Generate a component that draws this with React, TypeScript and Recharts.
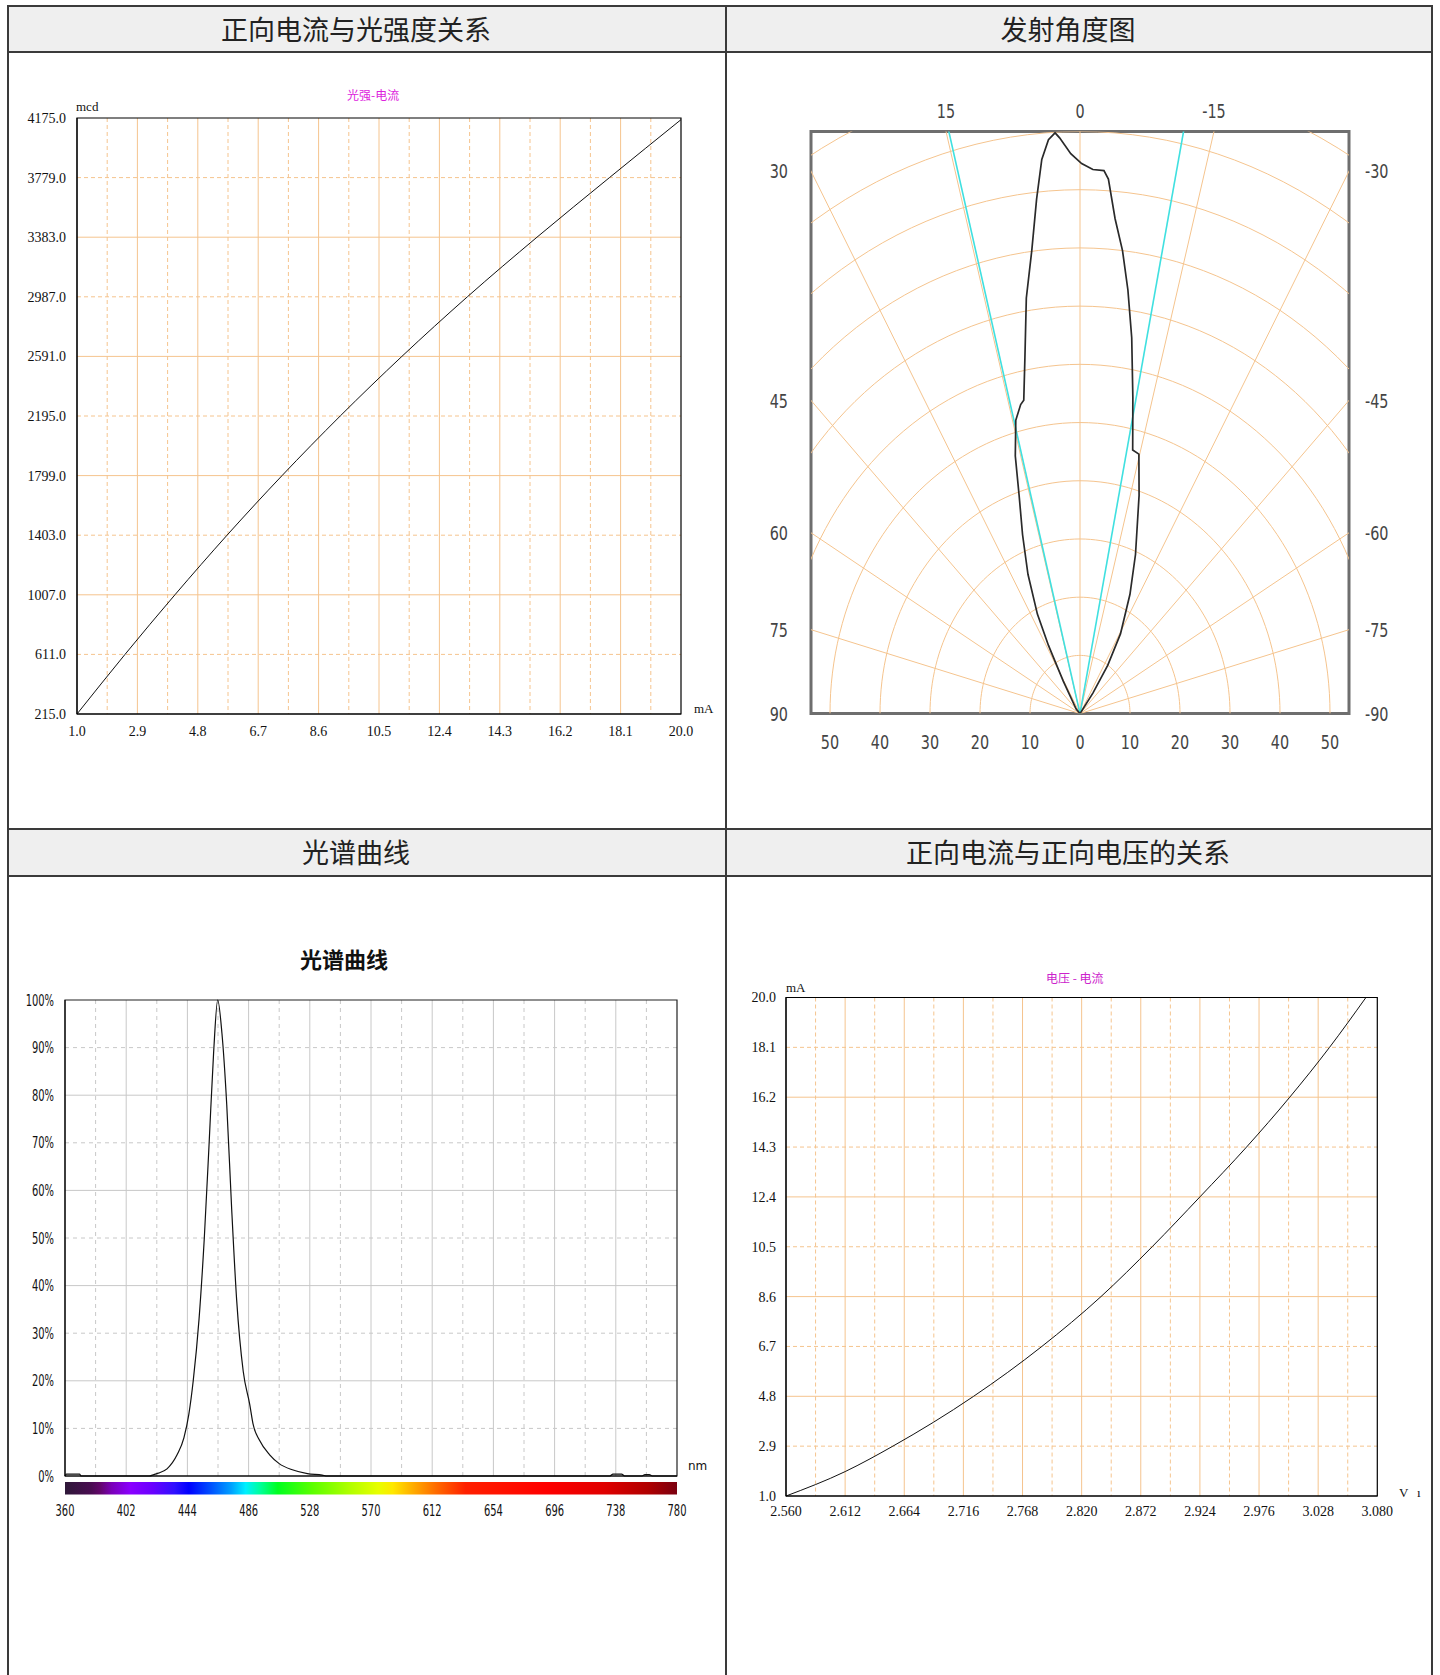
import React from 'react';
import { ComposedChart, Line, XAxis, YAxis, CartesianGrid, ReferenceArea } from 'recharts';

// 正向电流与光强度关系 (光强-电流)
const lumCurrent = [1.0, 2.51, 4.08, 5.72, 7.45, 9.28, 11.22, 13.28, 15.47, 17.75, 20.0];
const lumIntensity = [215, 611, 1007, 1403, 1799, 2195, 2591, 2987, 3383, 3779, 4164];
const lumXTicks = [1.0, 2.9, 4.8, 6.7, 8.6, 10.5, 12.4, 14.3, 16.2, 18.1, 20.0];
const lumYTicks = [215, 611, 1007, 1403, 1799, 2195, 2591, 2987, 3383, 3779, 4175];

// 发射角度图 (angle in degrees, relative intensity in %)
const beamAngle = [45, 44, 31, 28.3, 26.5, 23.5, 20.5, 18.0, 16.3, 14.3, 12.6, 11.8, 10.2, 8.55, 6.9, 5.61, 4.59, 3.66, 2.86,
  2.36, 1.1, -0.2, -1.58, -2.94, -3.54, -4.72, -6.1, -7.5, -9.1, -11.0, -13.1, -14.8, -17.5, -22.1, -26.0, -30.6, -33.8, -36.2, -40];
const beamIntensity = [0, 1.1, 6.5, 13.3, 19.1, 26.1, 32.8, 39.4, 46.1, 52.0, 54.4, 55.0, 62.2, 72.2, 80.2, 88.8, 95.5, 98.8, 99.9,
  99.0, 96.2, 94.5, 93.5, 93.4, 92.0, 85.3, 80.0, 73.4, 65.4, 55.4, 46.5, 46.1, 39.3, 29.5, 22.8, 15.9, 9.96, 4.36, 0];
const halfAngles = [14.7, -11.7];
const spokeAngles = [-75, -60, -45, -30, -15, 0, 15, 30, 45, 60, 75];
const ringRadii = [10, 20, 30, 40, 50, 60, 70, 80, 90, 100, 110];
const sideAngles = [30, 45, 60, 75, 90];
const topAngles = [15, 0, -15];
const widthTicks = [-50, -40, -30, -20, -10, 0, 10, 20, 30, 40, 50];

// 光谱曲线
const wavelength = [360, 361, 370, 371, 418, 421, 424, 430, 437, 441.6, 445, 448, 452, 455.6, 459, 462, 464.8, 467.7, 471, 474.4,
  477.8, 482.3, 486.8, 489, 493.5, 500.3, 507, 516, 526.3, 536.5, 540, 734, 736, 742, 744, 756, 758, 761, 763, 780];
const relIntensity = [0, 0.4, 0.4, 0, 0, 0.3, 0.6, 1.5, 4.5, 8, 13, 20, 33, 50, 70.5, 89, 100, 93, 78, 56,
  37, 22, 15, 11, 7.5, 4.5, 2.6, 1.3, 0.5, 0.2, 0, 0, 0.4, 0.4, 0, 0, 0.3, 0.3, 0, 0];
const nmTicks = [360, 402, 444, 486, 528, 570, 612, 654, 696, 738, 780];
const pctTicks = [0, 10, 20, 30, 40, 50, 60, 70, 80, 90, 100];
const barNm = [360, 378, 384, 392, 405, 420, 435, 445, 460, 474, 484, 494, 506, 530, 555, 575, 585, 598, 615, 635, 690, 730, 760, 780];
const barColor = ['#2e1838', '#4a0c52', '#62066a', '#7a00b8', '#8a00ff', '#6a00ff', '#3010ff', '#0000ff', '#0050ff', '#00a0ff',
  '#00f0ff', '#00ff9a', '#00ff20', '#5cff00', '#b0ff00', '#e8ff00', '#ffe800', '#ffb000', '#ff6a00', '#ff2000', '#ff0000',
  '#e00000', '#b00000', '#7a0010'];

// 正向电流与正向电压的关系 (电压-电流)
const fwdVoltage = [2.56, 2.612, 2.654, 2.725, 2.785, 2.837, 2.882, 2.924, 2.965, 3.003, 3.038, 3.07];
const fwdCurrent = [1.0, 1.93, 2.9, 4.8, 6.7, 8.6, 10.5, 12.4, 14.3, 16.2, 18.1, 20.0];
const vTicks = [2.56, 2.612, 2.664, 2.716, 2.768, 2.82, 2.872, 2.924, 2.976, 3.028, 3.08];
const iTicks = [1.0, 2.9, 4.8, 6.7, 8.6, 10.5, 12.4, 14.3, 16.2, 18.1, 20.0];

const X_MAX = 53.8;
const rad = (d: number) => (d * Math.PI) / 180;
const toXY = (deg: number, r: number) => ({ x: -r * Math.sin(rad(deg)), y: r * Math.cos(rad(deg)) });
const inner = (t: number[]) => t.slice(1, -1);
const mids = (t: number[]) => t.slice(1).map((v, i) => (v + t[i]) / 2);
const evenInner = (t: number[]) => t.filter((_, i) => i % 2 === 0 && i > 0 && i < t.length - 1);
const odd = (t: number[]) => t.filter((_, i) => i % 2 === 1);

const lumData = lumCurrent.map((c, i) => ({ x: c, y: lumIntensity[i] }));
const fwdData = fwdVoltage.map((v, i) => ({ x: v, y: fwdCurrent[i] }));
const specData = wavelength.map((w, i) => ({ x: w, y: relIntensity[i] }));
const beamData = beamAngle.map((a, i) => toXY(a, beamIntensity[i]));
const ringData = ringRadii.map((r) => {
  const pts = [];
  for (let a = -90; a <= 90; a += 2) pts.push(toXY(a, r));
  return pts;
});
const spokeData = spokeAngles.map((a) => [{ x: 0, y: 0 }, toXY(a, 200)]);
const halfData = halfAngles.map((a) => [{ x: 0, y: 0 }, toXY(a, 200)]);
const sideTicks = sideAngles.map((a) => (a === 90 ? 0 : X_MAX / Math.tan(rad(a))));
const topTicks = topAngles.map((a) => -100 * Math.tan(rad(a)));
const sideLabel = (v: number) => (v < 0.001 ? 90 : Math.round((Math.atan(X_MAX / v) * 180) / Math.PI));

const SERIF = '"Liberation Serif", serif';
const SANS = '"DejaVu Sans", sans-serif';
const CJK = '"Noto Sans CJK SC", sans-serif';
const ORANGE = '#f5c48e';
const BORDER = '#3a3a3a';

type TickStyle = { size: number; sx: number; fill: string; family: string; anchor: string; dy: string };
const makeTick = (fmt: (v: number) => string, s: TickStyle) => (props: any) => {
  const { x, y, payload } = props;
  return (
    <text transform={`translate(${x},${y}) scale(${s.sx},1)`} textAnchor={s.anchor} dy={s.dy}
      fontSize={s.size} fontFamily={s.family} fill={s.fill}>{fmt(payload.value)}</text>
  );
};
const serifX = (fmt: (v: number) => string) => makeTick(fmt, { size: 14, sx: 1, fill: '#111', family: SERIF, anchor: 'middle', dy: '0.71em' });
const serifY = (fmt: (v: number) => string) => makeTick(fmt, { size: 14, sx: 1, fill: '#111', family: SERIF, anchor: 'end', dy: '0.355em' });
const polarStyle = { size: 20, sx: 0.72, fill: '#444', family: SANS };
const specStyle = { size: 16, sx: 0.62, fill: '#111', family: SANS };

const abs = (x: number, y: number, extra: React.CSSProperties = {}): React.CSSProperties => ({
  position: 'absolute', left: x, top: y, ...extra,
});

const Header = ({ left, top, width, text }: { left: number; top: number; width: number; text: string }) => (
  <div style={abs(left, top, { width, height: 46, lineHeight: '46px', textAlign: 'center', fontSize: 27, color: '#222',
    fontFamily: CJK })}>{text}</div>
);

const SmallText = ({ x, y, text, color = '#111', font = SERIF, size = 13 }:
  { x: number; y: number; text: string; color?: string; font?: string; size?: number }) => (
  <div style={abs(x, y - size * 0.7, { fontSize: size, lineHeight: `${size * 1.4}px`, color, fontFamily: font, whiteSpace: 'pre' })}>{text}</div>
);

const App = () => {
  return (
    <div style={{ position: 'absolute', left: 0, top: 0, width: 1440, height: 1675, background: '#fff', overflow: 'hidden' }}>
      {/* header rows */}
      <div style={abs(8, 6, { width: 1424, height: 46, background: '#efefef' })} />
      <div style={abs(8, 829, { width: 1424, height: 47, background: '#efefef' })} />
      <Header left={9} top={6} width={694} text="正向电流与光强度关系" />
      <Header left={727} top={6} width={682} text="发射角度图" />
      <Header left={9} top={829} width={694} text="光谱曲线" />
      <Header left={727} top={829} width={682} text="正向电流与正向电压的关系" />

      {/* 光强-电流 */}
      <div style={abs(0, 60, { width: 726, height: 700 })}>
        <ComposedChart width={726} height={700} data={lumData} margin={{ top: 58, right: 45, bottom: 16, left: 10 }}>
          <CartesianGrid stroke={ORANGE} verticalValues={inner(lumXTicks)} horizontalValues={evenInner(lumYTicks)} />
          <CartesianGrid stroke={ORANGE} strokeDasharray="4 3" verticalValues={mids(lumXTicks)} horizontalValues={odd(lumYTicks)} />
          <XAxis dataKey="x" type="number" domain={[1, 20]} ticks={lumXTicks} interval={0} height={30}
            tick={serifX((v) => v.toFixed(1))} tickLine={false} tickSize={0} tickMargin={12} stroke="#000" />
          <YAxis type="number" domain={[215, 4175]} ticks={lumYTicks} interval={0} width={67}
            tick={serifY((v) => v.toFixed(1))} tickLine={false} tickSize={0} tickMargin={11} stroke="#000" />
          <ReferenceArea x1={1} x2={20} y1={215} y2={4175} fill="none" stroke="#000" strokeWidth={1.2} />
          <Line dataKey="y" type="monotone" stroke="#111" strokeWidth={1} dot={false} activeDot={false} isAnimationActive={false} />
        </ComposedChart>
      </div>
      <SmallText x={347} y={95} text="光强-电流" color="#dd22dd" font={CJK} size={12} />
      <SmallText x={76} y={107} text="mcd" />
      <SmallText x={694} y={709} text="mA" />

      {/* 发射角度图 */}
      <div style={abs(727, 60, { width: 713, height: 740 })}>
        <ComposedChart width={713} height={740} margin={{ top: 41.5, right: 41, bottom: 46.4, left: 34 }}>
          <XAxis dataKey="x" type="number" domain={[-X_MAX, X_MAX]} allowDataOverflow ticks={widthTicks} interval={0} height={40}
            tick={makeTick((v) => String(Math.abs(v)), { ...polarStyle, anchor: 'middle', dy: '0.71em' })}
            axisLine={false} tickLine={false} tickSize={0} tickMargin={21} />
          <XAxis xAxisId="top" orientation="top" dataKey="x" type="number" domain={[-X_MAX, X_MAX]} allowDataOverflow ticks={topTicks}
            interval={0} height={30}
            tick={makeTick((v) => String(Math.round((Math.atan(-v / 100) * 180) / Math.PI)), { ...polarStyle, anchor: 'middle', dy: '0' })}
            axisLine={false} tickLine={false} tickSize={0} tickMargin={14} />
          <YAxis type="number" domain={[0, 100]} allowDataOverflow ticks={sideTicks} interval={0} width={50}
            tick={makeTick((v) => String(sideLabel(v)), { ...polarStyle, anchor: 'end', dy: '0.355em' })}
            axisLine={false} tickLine={false} tickSize={0} tickMargin={23} />
          <YAxis yAxisId="right" orientation="right" type="number" domain={[0, 100]} allowDataOverflow ticks={sideTicks} interval={0}
            width={50} tick={makeTick((v) => '-' + String(sideLabel(v)), { ...polarStyle, anchor: 'start', dy: '0.355em' })}
            axisLine={false} tickLine={false} tickSize={0} tickMargin={16} />
          {/* invisible series so the top and right label axes get a scale */}
          <Line xAxisId="top" yAxisId="right" data={[{ x: 0, y: 0 }, { x: 0, y: 100 }]} dataKey="y" stroke="none" dot={false}
            activeDot={false} isAnimationActive={false} />
          {ringData.map((pts, i) => (
            <Line key={`ring-${i}`} data={pts} dataKey="y" type="linear" stroke={ORANGE} strokeWidth={1} dot={false}
              activeDot={false} isAnimationActive={false} />
          ))}
          {spokeData.map((pts, i) => (
            <Line key={`spoke-${i}`} data={pts} dataKey="y" type="linear" stroke={ORANGE} strokeWidth={1} dot={false}
              activeDot={false} isAnimationActive={false} />
          ))}
          {halfData.map((pts, i) => (
            <Line key={`half-${i}`} data={pts} dataKey="y" type="linear" stroke="#3fe0e0" strokeWidth={1.6} dot={false}
              activeDot={false} isAnimationActive={false} />
          ))}
          <Line data={beamData} dataKey="y" type="linear" stroke="#2a2a2a" strokeWidth={1.7} dot={false}
            activeDot={false} isAnimationActive={false} />
          <ReferenceArea x1={-X_MAX} x2={X_MAX} y1={0} y2={100} fill="none" stroke="#6e6e6e" strokeWidth={3} ifOverflow="visible" />
        </ComposedChart>
      </div>

      {/* 光谱曲线 */}
      <div style={abs(0, 880, { width: 726, height: 660 })}>
        <ComposedChart width={726} height={660} data={specData} margin={{ top: 120, right: 49, bottom: 14, left: 5 }}>
          <defs>
            <linearGradient id="spectrumBar" x1="0" y1="0" x2="1" y2="0">
              {barNm.map((nm, i) => (
                <stop key={nm} offset={(nm - 360) / 420} stopColor={barColor[i]} />
              ))}
            </linearGradient>
          </defs>
          <CartesianGrid stroke="#c8c8c8" verticalValues={inner(nmTicks)} horizontalValues={evenInner(pctTicks)} />
          <CartesianGrid stroke="#c8c8c8" strokeDasharray="4 4" verticalValues={mids(nmTicks)} horizontalValues={odd(pctTicks)} />
          <XAxis dataKey="x" type="number" domain={[360, 780]} ticks={nmTicks} interval={0} height={50}
            tick={makeTick((v) => String(v), { ...specStyle, anchor: 'middle', dy: '0.71em' })}
            tickLine={false} tickSize={0} tickMargin={29} stroke="#000" />
          <YAxis type="number" domain={[0, 100]} ticks={pctTicks} interval={0} width={60}
            tick={makeTick((v) => `${v}%`, { ...specStyle, anchor: 'end', dy: '0.355em' })}
            tickLine={false} tickSize={0} tickMargin={11} stroke="#000" />
          <ReferenceArea x1={360} x2={780} y1={0} y2={100} fill="none" stroke="#222" strokeWidth={1.2} />
          <ReferenceArea x1={360} x2={780} y1={-1.25} y2={-3.9} fill="url(#spectrumBar)" fillOpacity={1} ifOverflow="visible" />
          <Line dataKey="y" type="monotone" stroke="#111" strokeWidth={1.2} dot={false} activeDot={false} isAnimationActive={false} />
        </ComposedChart>
      </div>
      <div style={abs(256, 943, { width: 176, textAlign: 'center', fontSize: 22, fontWeight: 700, lineHeight: '30px',
        fontFamily: CJK, color: '#111' })}>光谱曲线</div>
      <SmallText x={688} y={1466} text="nm" font={SANS} size={12} />

      {/* 电压 - 电流 */}
      <div style={abs(727, 880, { width: 713, height: 660 })}>
        <ComposedChart width={713} height={660} data={fwdData} margin={{ top: 117.5, right: 62.7, bottom: 14, left: 4 }}>
          <CartesianGrid stroke={ORANGE} verticalValues={inner(vTicks)} horizontalValues={evenInner(iTicks)} />
          <CartesianGrid stroke={ORANGE} strokeDasharray="4 3" verticalValues={mids(vTicks)} horizontalValues={odd(iTicks)} />
          <XAxis dataKey="x" type="number" domain={[2.56, 3.08]} ticks={vTicks} interval={0} height={30}
            tick={serifX((v) => v.toFixed(3))} tickLine={false} tickSize={0} tickMargin={10} stroke="#000" />
          <YAxis type="number" domain={[1, 20]} ticks={iTicks} interval={0} width={55}
            tick={serifY((v) => v.toFixed(1))} tickLine={false} tickSize={0} tickMargin={10} stroke="#000" />
          <ReferenceArea x1={2.56} x2={3.08} y1={1} y2={20} fill="none" stroke="#000" strokeWidth={1.2} />
          <Line dataKey="y" type="monotone" stroke="#111" strokeWidth={1} dot={false} activeDot={false} isAnimationActive={false} />
        </ComposedChart>
      </div>
      <SmallText x={1046} y={978} text="电压 - 电流" color="#cc22cc" font={CJK} size={12} />
      <SmallText x={786} y={988} text="mA" />
      <SmallText x={1399} y={1493} text="V" />
      <SmallText x={1417} y={1493} text="ı" />

      {/* table borders */}
      <div style={abs(7, 5, { width: 1426, height: 2, background: BORDER })} />
      <div style={abs(7, 51, { width: 1426, height: 2, background: BORDER })} />
      <div style={abs(7, 828, { width: 1426, height: 2, background: BORDER })} />
      <div style={abs(7, 875, { width: 1426, height: 2, background: BORDER })} />
      <div style={abs(7, 5, { width: 2, height: 1670, background: BORDER })} />
      <div style={abs(725, 5, { width: 2, height: 1670, background: BORDER })} />
      <div style={abs(1431, 5, { width: 2, height: 1670, background: BORDER })} />
    </div>
  );
};

export default App;
